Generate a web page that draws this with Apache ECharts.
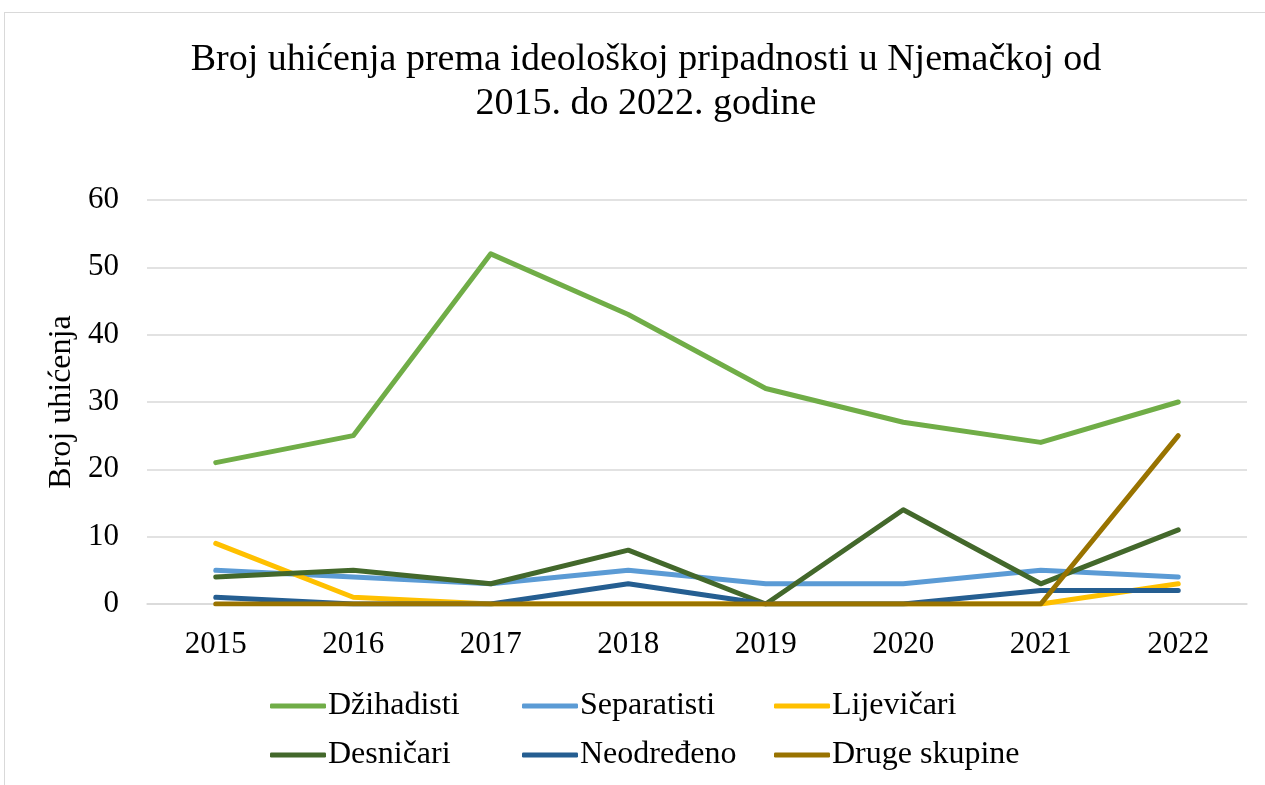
<!DOCTYPE html>
<html>
<head>
<meta charset="utf-8">
<script src="https://cdn.jsdelivr.net/npm/echarts@6/dist/echarts.min.js"></script>
<style>
    html, body { margin: 0; padding: 0; background: #fff; }
    #chart { width: 1265px; height: 785px; }
    #frame { position: absolute; left: 4px; top: 12px; width: 1280px; height: 800px; border: 1.5px solid #d9d9d9; pointer-events: none; }
</style>
</head>
<body>
<div id="chart"></div>
<div id="frame"></div>
<script>
    // godine
    let years = ['2015', '2016', '2017', '2018', '2019', '2020', '2021', '2022'];

    let dzihadisti = [21, 25, 52, 43, 32, 27, 24, 30];
    let separatisti = [5, 4, 3, 5, 3, 3, 5, 4];
    let ljevicari = [9, 1, 0, 0, 0, 0, 0, 3];
    let desnicari = [4, 5, 3, 8, 0, 14, 3, 11];
    let neodredeno = [1, 0, 0, 3, 0, 0, 2, 2];
    let druge = [0, 0, 0, 0, 0, 0, 0, 25];

    let names = ['Džihadisti', 'Separatisti', 'Lijevičari', 'Desničari', 'Neodređeno', 'Druge skupine'];
    let values = [dzihadisti, separatisti, ljevicari, desnicari, neodredeno, druge];
    let colors = ['#70ad47', '#5b9bd5', '#ffc000', '#43682b', '#255e91', '#997300'];

    let font = '"Liberation Serif", "Times New Roman", serif';

    // legend placement, 3 columns x 2 rows
    let legendLeft = [270, 522, 774];
    let legendTop = [690, 739];

    let chart = echarts.init(document.getElementById('chart'));

    let legends = names.map(function (n, i) {
        return {
            data: [n],
            left: legendLeft[i % 3],
            top: legendTop[Math.floor(i / 3)],
            padding: 0,
            icon: 'roundRect',
            itemWidth: 56,
            itemHeight: 5,
            itemGap: 0,
            textStyle: { fontFamily: font, fontSize: 32, color: '#000', padding: [0, 0, 0, -3] }
        };
    });

    let option = {
        animation: false,
        color: colors,
        title: {
            text: 'Broj uhićenja prema ideološkoj pripadnosti u Njemačkoj od\n2015. do 2022. godine',
            left: 641,
            textAlign: 'center',
            top: 33,
            textStyle: {
                fontFamily: font,
                fontSize: 38,
                fontWeight: 'normal',
                color: '#000',
                lineHeight: 44
            }
        },
        legend: legends,
        grid: {
            left: 147,
            right: 18,
            top: 200,
            bottom: 181
        },
        xAxis: {
            type: 'category',
            data: years,
            boundaryGap: true,
            axisLine: { lineStyle: { color: '#d9d9d9', width: 1.5 } },
            axisTick: { show: false },
            axisLabel: { fontFamily: font, fontSize: 31, color: '#000', margin: 25 }
        },
        yAxis: {
            type: 'value',
            min: 0,
            max: 60,
            interval: 10,
            name: 'Broj uhićenja',
            nameLocation: 'middle',
            nameGap: 68,
            nameRotate: 90,
            nameTextStyle: { fontFamily: font, fontSize: 32, color: '#000' },
            axisLine: { show: false },
            axisTick: { show: false },
            splitLine: { lineStyle: { color: '#d9d9d9', width: 1.5 } },
            axisLabel: { fontFamily: font, fontSize: 31, color: '#000', margin: 28, padding: [4, 0, 0, 0] }
        },
        series: names.map(function (n, i) {
            return {
                name: n,
                type: 'line',
                data: values[i],
                symbol: 'none',
                lineStyle: { width: 5, color: colors[i], cap: 'round', join: 'round' },
                itemStyle: { color: colors[i] }
            };
        })
    };

    chart.setOption(option);
</script>
</body>
</html>
